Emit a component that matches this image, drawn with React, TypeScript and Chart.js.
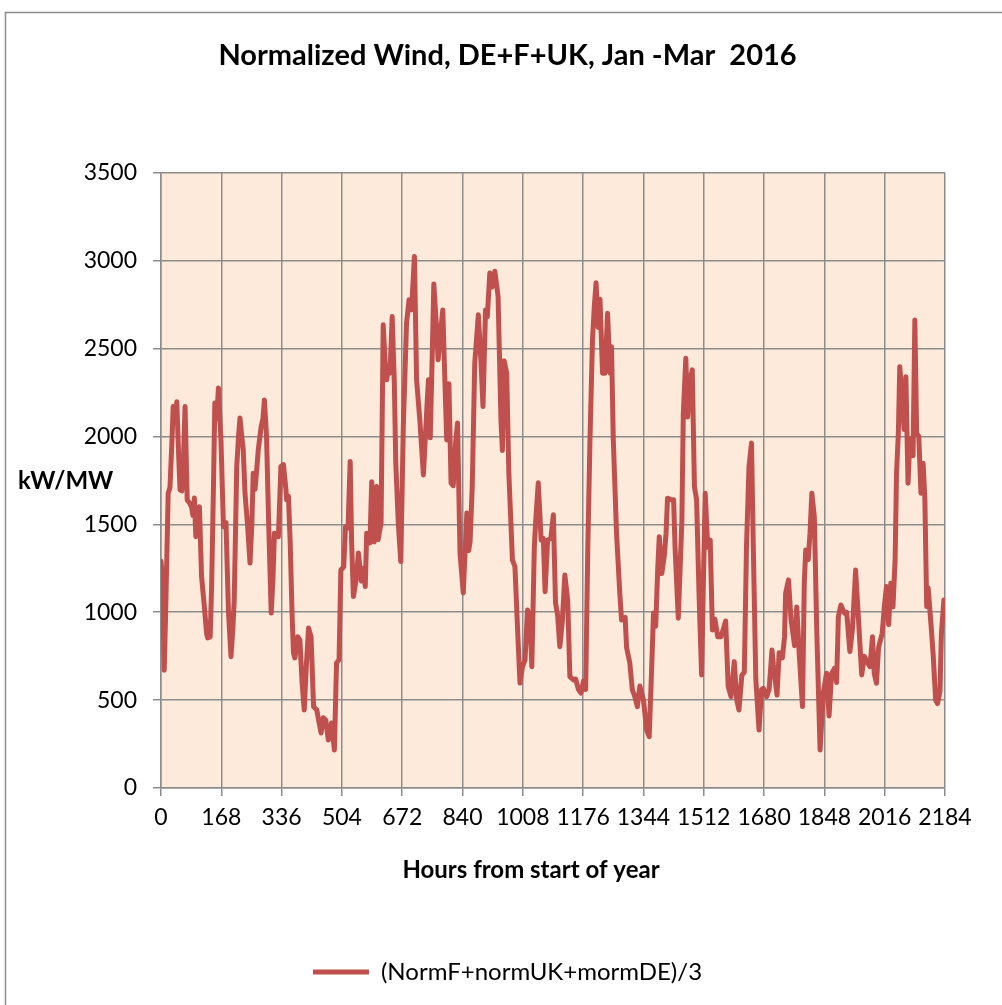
import React, { useEffect, useRef } from "react";
import { Chart, registerables } from "chart.js";

Chart.register(...registerables);

const chartTitle = "Normalized Wind, DE+F+UK, Jan -Mar  2016";
const xAxisTitle = "Hours from start of year";
const yAxisTitle = "kW/MW";
const seriesLabel = "(NormF+normUK+mormDE)/3";

const xMin = 0;
const xMax = 2184;
const xStep = 168;
const yMin = 0;
const yMax = 3500;
const yStep = 500;

const hours = [
  0, 4, 9, 13, 20, 25, 30, 34, 39, 44, 49, 53, 58, 63, 67, 73, 80, 85, 89, 93, 97, 102, 107, 113, 120, 127, 130, 137, 141, 146,
  150, 155, 160, 167, 174, 181, 188, 195, 200, 204, 211, 216, 220, 225, 229, 234, 241, 248, 253, 257, 262, 267, 271, 279, 284, 288,
  294, 300, 307, 312, 316, 322, 327, 334, 341, 348, 350, 355, 360, 365, 369, 373, 381, 387, 393, 399, 405, 411, 418, 425, 434, 439,
  446, 452, 459, 466, 475, 483, 489, 496, 501, 509, 514, 521, 527, 531, 536, 543, 550, 558, 564, 569, 573, 582, 587, 594, 601, 605,
  613, 619, 625, 629, 633, 638, 644, 650, 654, 661, 668, 675, 684, 691, 698, 706, 712, 721, 731, 740, 745, 750, 756, 760, 768, 772,
  779, 785, 791, 796, 802, 808, 814, 821, 826, 833, 842, 852, 857, 861, 867, 874, 884, 891, 897, 904, 909, 916, 922, 930, 939, 947,
  951, 956, 963, 969, 979, 986, 995, 1000, 1007, 1014, 1021, 1028, 1033, 1040, 1044, 1051, 1059, 1065, 1070, 1077, 1086, 1093, 1099,
  1105, 1111, 1118, 1125, 1133, 1139, 1149, 1155, 1163, 1170, 1177, 1183, 1189, 1195, 1202, 1207, 1212, 1218, 1223, 1230, 1237, 1244,
  1251, 1255, 1260, 1269, 1278, 1283, 1293, 1297, 1306, 1313, 1320, 1327, 1334, 1344, 1353, 1360, 1367, 1372, 1378, 1384, 1388, 1395,
  1402, 1407, 1411, 1421, 1428, 1432, 1441, 1451, 1455, 1462, 1467, 1474, 1480, 1486, 1492, 1499, 1506, 1511, 1516, 1523, 1530, 1536,
  1543, 1551, 1560, 1566, 1573, 1580, 1588, 1597, 1604, 1610, 1618, 1625, 1631, 1638, 1645, 1650, 1657, 1666, 1673, 1678, 1687, 1694,
  1702, 1706, 1716, 1722, 1731, 1737, 1740, 1748, 1755, 1765, 1771, 1778, 1787, 1792, 1796, 1803, 1808, 1813, 1820, 1827, 1836, 1845,
  1854, 1861, 1868, 1876, 1882, 1887, 1894, 1904, 1910, 1919, 1926, 1935, 1943, 1952, 1959, 1969, 1975, 1982, 1987, 1993, 1999, 2009,
  2015, 2021, 2027, 2033, 2039, 2045, 2049, 2054, 2058, 2065, 2070, 2075, 2081, 2086, 2091, 2095, 2100, 2105, 2111, 2117, 2123, 2128,
  2133, 2137, 2145, 2151, 2158, 2163, 2170, 2174, 2181, 2184,
];

const windValues = [
  1290, 1200, 670, 1000, 1677, 1710, 1950, 2170, 2100, 2198, 1900, 1696, 1690, 1900, 2170, 1639, 1620, 1600, 1550, 1650, 1430, 1500, 1600, 1203, 1050, 880, 854, 860, 1146, 1700,
  2190, 2100, 2276, 1980, 1487, 1510, 1000, 747, 900, 1070, 1829, 2000, 2105, 2000, 1930, 1677, 1500, 1280, 1500, 1791, 1700, 1820, 1925, 2056, 2100, 2208,
  2000, 1500, 995, 1200, 1450, 1440, 1430, 1829, 1840, 1700, 1639, 1660, 1394, 1000, 768, 740, 861, 840, 600, 444, 700, 910, 860, 463, 444, 387,
  313, 400, 387, 273, 370, 216, 711, 730, 1240, 1258, 1487, 1480, 1858, 1400, 1089, 1177, 1337, 1177, 1250, 1146, 1450, 1394, 1743, 1400, 1715, 1413,
  1508, 2635, 2400, 2322, 2400, 2360, 2682, 2303, 1850, 1508, 1288, 2056, 2646, 2777, 2720, 3024, 2322, 2094, 1781, 2140, 2322, 1992, 2500, 2868, 2600, 2436,
  2600, 2720, 2303, 1980, 2300, 1736, 1720, 1970, 2077, 1337, 1110, 1565, 1350, 1400, 1715, 2417, 2692, 2440, 2170, 2720, 2680, 2930, 2850, 2940, 2796, 2094,
  1920, 2430, 2360, 1791, 1297, 1260, 825, 597, 690, 728, 1013, 960, 690, 1373, 1525, 1736, 1410, 1420, 1117, 1410, 1420, 1554, 1053,
  980, 804, 950, 1212, 1070, 634, 615, 620, 560, 540, 610, 560, 1373, 1980, 2550, 2739, 2874, 2620, 2780, 2360, 2360, 2701,
  2360, 2510, 1980, 1450, 1110, 956, 970, 800, 711, 558, 520, 463, 580, 500, 330, 292, 691, 995, 920, 1259, 1430, 1220,
  1320, 1450, 1649, 1640, 1640, 1370, 966, 1520, 2132, 2445, 2110, 2320, 2379, 1715, 1640, 1089, 643, 1180, 1677, 1370, 1410, 899,
  960, 860, 860, 900, 950, 577, 520, 719, 500, 444, 640, 660, 1373, 1829, 1962, 1370, 620, 330, 560, 567, 520, 560,
  785, 700, 529, 770, 740, 861, 1108, 1184, 960, 810, 1030, 760, 463, 1165, 1354, 1300, 1450, 1677, 1545, 881, 216, 540,
  653, 410, 650, 680, 600, 975, 1041, 995, 1000, 776, 900, 1240, 960, 643, 750, 710, 690, 860, 650, 596, 800, 880,
  1032, 1146, 930, 1165, 1030, 1297, 1791, 2018, 2397, 2210, 2040, 2340, 1734, 1980, 1990, 1890, 2663, 2020, 2000, 1677, 1848, 1640,
  1032, 1140, 930, 760, 500, 480, 550, 880, 1070, 1000,
];

const FONT = "Lato, 'Open Sans', 'Liberation Sans', sans-serif";
const LINE_COLOR = "#C0504D";
const GRID_COLOR = "#8c8c8c";
const PLOT_BG = "#FDEADA";

const decorPlugin = {
  id: "decor",
  beforeDraw(chart: any) {
    const { ctx, chartArea: a } = chart;
    ctx.save();
    ctx.fillStyle = "#ffffff";
    ctx.fillRect(0, 0, chart.width, chart.height);
    ctx.strokeStyle = GRID_COLOR;
    ctx.lineWidth = 1.5;
    ctx.beginPath();
    ctx.moveTo(5.5, chart.height);
    ctx.lineTo(5.5, 12.5);
    ctx.lineTo(chart.width, 12.5);
    ctx.stroke();
    ctx.fillStyle = PLOT_BG;
    ctx.fillRect(a.left, a.top, a.right - a.left, a.bottom - a.top);
    ctx.restore();
  },
  afterDraw(chart: any) {
    const { ctx } = chart;
    ctx.save();
    ctx.fillStyle = "#000";
    ctx.textBaseline = "middle";
    ctx.font = `bold 24px ${FONT}`;
    ctx.textAlign = "left";
    ctx.fillText(yAxisTitle, 18, 481);
    ctx.font = `bold 24px ${FONT}`;
    ctx.textAlign = "center";
    ctx.fillText(xAxisTitle, 531, 870);
    ctx.restore();
  },
};

export default function App() {
  const canvasRef = useRef<HTMLCanvasElement | null>(null);

  useEffect(() => {
    if (!canvasRef.current) return;
    const points = hours.map((h, i) => ({ x: h, y: windValues[i] }));
    const chart = new Chart(canvasRef.current, {
      type: "line",
      data: {
        datasets: [
          {
            label: seriesLabel,
            data: points,
            borderColor: LINE_COLOR,
            backgroundColor: LINE_COLOR,
            borderWidth: 5,
            pointRadius: 0,
            tension: 0,
            borderJoinStyle: "round",
            borderCapStyle: "round",
          },
        ],
      },
      options: {
        animation: false,
        responsive: false,
        maintainAspectRatio: false,
        layout: { padding: { left: 70, right: 57, top: 0, bottom: 11 } },
        plugins: {
          title: {
            display: true,
            text: chartTitle,
            color: "#000",
            font: { family: FONT, size: 29, weight: "bold" },
            padding: { top: 38, bottom: 100 },
          },
          legend: {
            display: true,
            position: "bottom",
            labels: {
              color: "#000",
              font: { family: FONT, size: 24 },
              boxWidth: 56,
              boxHeight: 5,
              padding: 10,
              generateLabels: () => [
                {
                  text: seriesLabel,
                  fillStyle: LINE_COLOR,
                  strokeStyle: LINE_COLOR,
                  lineWidth: 0,
                  hidden: false,
                  datasetIndex: 0,
                  fontColor: "#000",
                },
              ],
            },
          },
          tooltip: { enabled: false },
        },
        scales: {
          x: {
            type: "linear",
            min: xMin,
            max: xMax,
            ticks: {
              stepSize: xStep,
              autoSkip: false,
              maxRotation: 0,
              color: "#000",
              font: { family: FONT, size: 23 },
              padding: 8,
              callback: (v: any) => String(v),
            },
            grid: { color: GRID_COLOR, lineWidth: 1.5, tickLength: 8, drawTicks: true },
            border: { color: GRID_COLOR, width: 1.5 },
            afterFit: (s: any) => {
              s.height = 162;
            },
          },
          y: {
            type: "linear",
            min: yMin,
            max: yMax,
            ticks: {
              stepSize: yStep,
              color: "#000",
              font: { family: FONT, size: 23 },
              padding: 16,
              callback: (v: any) => String(v),
            },
            grid: { color: GRID_COLOR, lineWidth: 1.5, tickLength: 8, drawTicks: true },
            border: { color: GRID_COLOR, width: 1.5 },
            afterFit: (s: any) => {
              s.width = 91;
            },
          },
        },
      },
      plugins: [decorPlugin],
    });
    return () => chart.destroy();
  }, []);

  return (
    <div style={{ position: "fixed", left: 0, top: 0, width: 1002, height: 1005, background: "#fff" }}>
      <canvas ref={canvasRef} width={1002} height={1005} style={{ display: "block" }} />
    </div>
  );
}
